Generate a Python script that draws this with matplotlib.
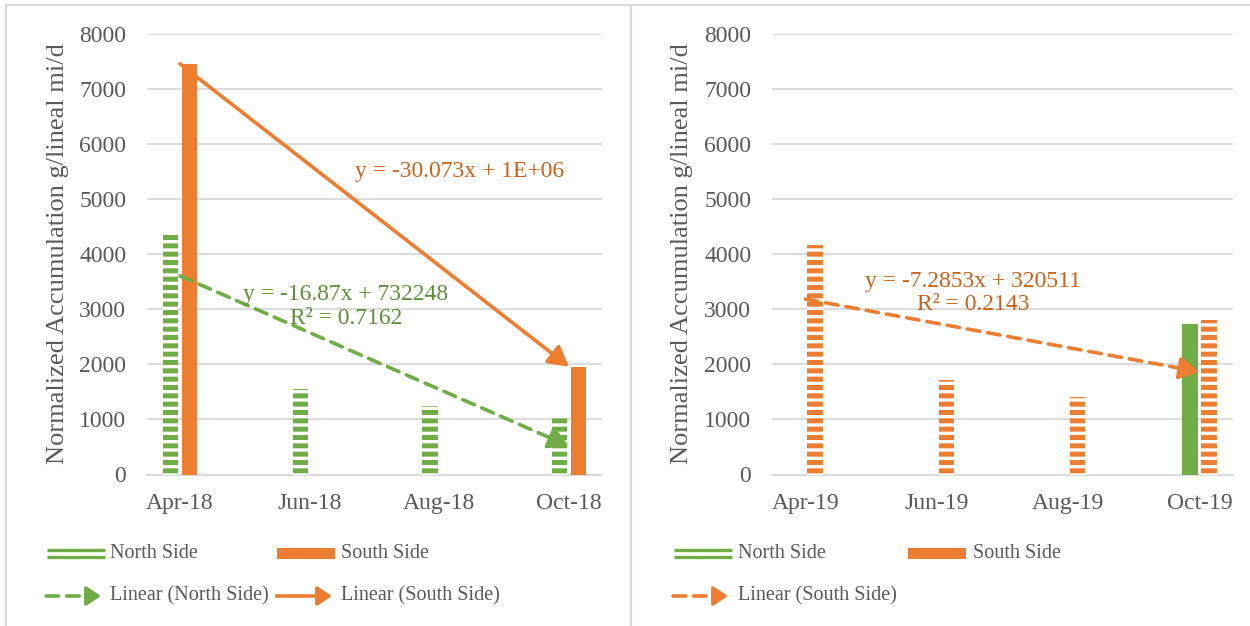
import numpy as np
import pandas as pd
import matplotlib.pyplot as plt
import matplotlib.dates as mdates
from matplotlib.patches import Rectangle

# data
dates_18 = ["2018-04-01", "2018-06-01", "2018-08-01", "2018-10-01"]
dates_19 = ["2019-04-01", "2019-06-01", "2019-08-01", "2019-10-01"]
north_18 = [4390, 1550, 1235, 1062]
south_18 = [7450, np.nan, np.nan, 1955]
north_19 = [np.nan, np.nan, np.nan, 2731]
south_19 = [4168, 1712, 1405, 2804]
eq_south_18 = "y = -30.073x + 1E+06"
eq_north_18 = "y = -16.87x + 732248\nR² = 0.7162"
eq_south_19 = "y = -7.2853x + 320511\nR² = 0.2143"

GREEN = "#70AD47"
ORANGE = "#ED7D31"
GREEN_TXT = "#5E8F3A"
ORANGE_TXT = "#C9621A"
GRAY = "#595959"
GRID = "#D9D9D9"
FONT = "Liberation Serif"

plt.rcParams["font.family"] = FONT
plt.rcParams["hatch.linewidth"] = 3.6

W, H = 1250, 626
fig = plt.figure(figsize=(W / 100, H / 100), dpi=100)


def trend(ax, x, y, color, dashed):
    m = ~np.isnan(y)
    k, b = np.polyfit(x[m], y[m], 1)
    x0, x1 = x[m][0], x[m][-1]
    y0, y1 = k * x0 + b, k * x1 + b
    xs = x1 - (x1 - x0) * 0.02
    ax.plot([x0, xs], [y0, k * xs + b], color=color, lw=2.6,
            ls=(0, (3.5, 2.2)) if dashed else "-", solid_capstyle="round",
            dash_capstyle="round", zorder=4)
    xa = xs - (x1 - x0) * 0.01
    ax.annotate("", xy=(x1, y1), xytext=(xa, k * xa + b),
                arrowprops=dict(arrowstyle="-|>,head_length=0.45,head_width=0.25",
                                color=color, lw=2.6, mutation_scale=27,
                                shrinkA=0, shrinkB=0), zorder=5)


def panel(rect, dates, north, south, north_hatched):
    ax = fig.add_axes(rect)
    x = mdates.date2num(pd.to_datetime(dates))
    n = np.array(north, dtype=float)
    s = np.array(south, dtype=float)
    off, w = 4.4, 7.2
    if north_hatched:
        ax.bar(x - off, n, width=w, color="white", edgecolor=GREEN, lw=0, hatch="--", zorder=3)
        ax.bar(x + off, s, width=w, color=ORANGE, lw=0, zorder=3)
    else:
        ax.bar(x - off, n, width=w, color=GREEN, lw=0, zorder=3)
        ax.bar(x + off, s, width=w, color="white", edgecolor=ORANGE, lw=0, hatch="--", zorder=3)
    ax.set_xlim(x[0] - 15.5, x[-1] + 15.5)
    ax.set_ylim(0, 8000)
    ax.set_yticks(range(0, 8001, 1000))
    ax.set_xticks(x)
    ax.xaxis.set_major_formatter(mdates.DateFormatter("%b-%y"))
    ax.grid(axis="y", color=GRID, lw=1.3, zorder=0)
    for sp in ["top", "right", "left"]:
        ax.spines[sp].set_visible(False)
    ax.spines["bottom"].set_color(GRID)
    ax.spines["bottom"].set_linewidth(1.3)
    ax.tick_params(axis="y", length=0, pad=15, labelsize=17, labelcolor=GRAY)
    ax.tick_params(axis="x", length=0, pad=13, labelsize=17, labelcolor=GRAY)
    ax.set_ylabel("Normalized Accumulation g/lineal mi/d", fontsize=19, color=GRAY)
    ax.yaxis.set_label_coords(-0.172, 0.5)
    return ax, x, n, s


axL, xL, nL, sL = panel([147 / W, 1 - 474.5 / H, 455 / W, 441 / H], dates_18, north_18, south_18, True)
trend(axL, xL, nL, GREEN, True)
trend(axL, xL, sL, ORANGE, False)
axL.text(0.687, 0.688, eq_south_18, transform=axL.transAxes, ha="center", va="center",
         fontsize=17, color=ORANGE_TXT, zorder=6)
axL.text(0.437, 0.381, eq_north_18, transform=axL.transAxes, ha="center", va="center",
         fontsize=17, color=GREEN_TXT, zorder=6, linespacing=1.15)

axR, xR, nR, sR = panel([772 / W, 1 - 474.5 / H, 461 / W, 441 / H], dates_19, north_19, south_19, False)
trend(axR, xR, sR, ORANGE, True)
axR.text(0.436, 0.412, eq_south_19, transform=axR.transAxes, ha="center", va="center",
         fontsize=17, color=ORANGE_TXT, zorder=6, linespacing=1.15)

# overlay in pixel coordinates for frame and legends
ov = fig.add_axes([0, 0, 1, 1], facecolor="none")
ov.set_xlim(0, W)
ov.set_ylim(H, 0)
ov.axis("off")
ov.plot([6, W], [5, 5], color=GRID, lw=1.5)
ov.plot([6, 6], [5, H], color=GRID, lw=1.5)
ov.plot([631, 631], [5, H], color=GRID, lw=1.5)


def leg_double(x, y):
    ov.plot([x, x + 58], [y - 3.5, y - 3.5], color=GREEN, lw=2.4, solid_capstyle="butt")
    ov.plot([x, x + 58], [y + 3.5, y + 3.5], color=GREEN, lw=2.4, solid_capstyle="butt")


def leg_solid(x, y):
    ov.add_patch(Rectangle((x, y - 5.5), 58, 11, color=ORANGE, lw=0))


def leg_trend(x, y, color, dashed):
    ov.plot([x, x + 44], [y, y], color=color, lw=2.6, ls=(0, (3.5, 2.2)) if dashed else "-",
            dash_capstyle="round")
    ov.annotate("", xy=(x + 55, y), xytext=(x + 42, y),
                arrowprops=dict(arrowstyle="-|>,head_length=0.45,head_width=0.3",
                                color=color, lw=2.6, mutation_scale=19, shrinkA=0, shrinkB=0))


def leg_text(x, y, s):
    ov.text(x, y, s, fontsize=14.5, color=GRAY, ha="left", va="center")


r1, r2 = 553, 596
leg_double(47, r1); leg_text(110, r1, "North Side")
leg_solid(277, r1); leg_text(341, r1, "South Side")
leg_trend(46, r2, GREEN, True); leg_text(110, r2, "Linear (North Side)")
leg_trend(277, r2, ORANGE, False); leg_text(341, r2, "Linear (South Side)")

leg_double(674, r1); leg_text(738, r1, "North Side")
leg_solid(908, r1); leg_text(973, r1, "South Side")
leg_trend(673, r2, ORANGE, True); leg_text(738, r2, "Linear (South Side)")

fig.savefig("out.png", dpi=100)
